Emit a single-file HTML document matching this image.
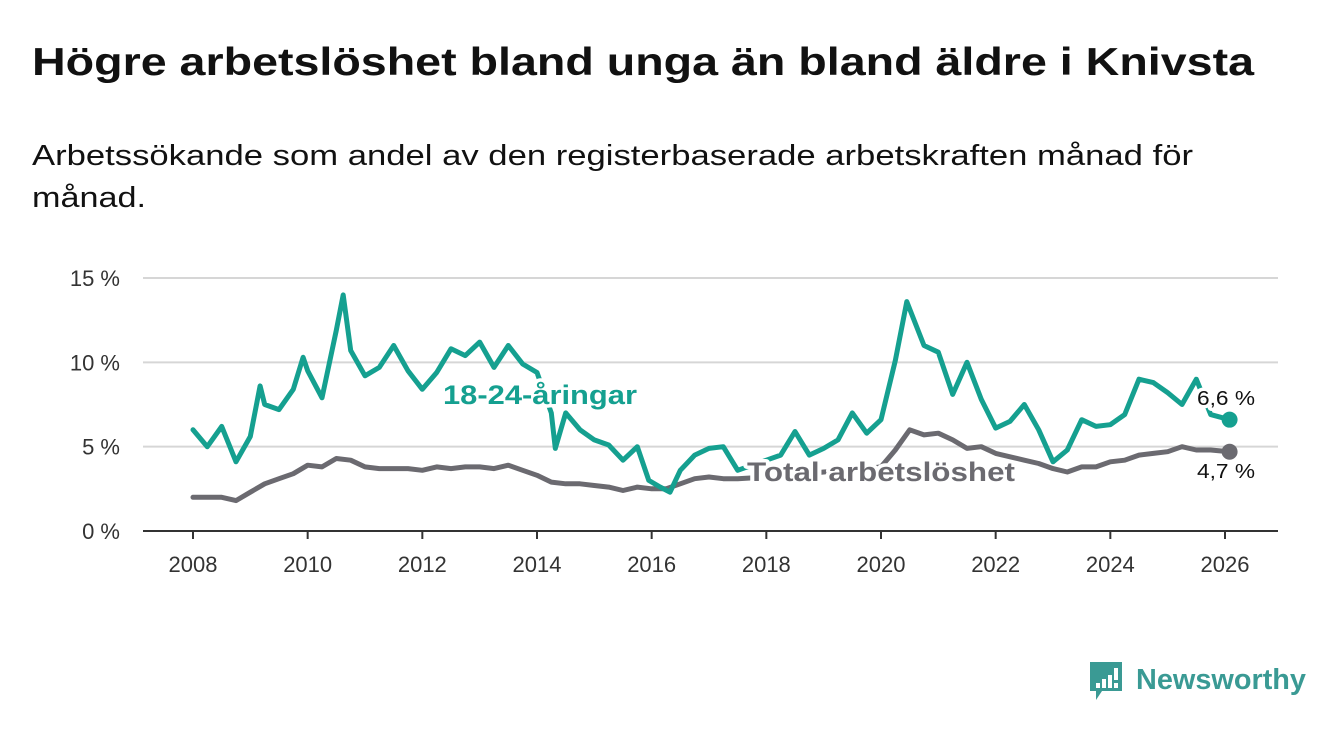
<!DOCTYPE html>
<html><head><meta charset="utf-8"><style>
html,body{margin:0;padding:0;background:#fff;}
svg{display:block;font-family:"Liberation Sans","DejaVu Sans",sans-serif;}
</style></head><body>
<svg id="chart" width="1340" height="734" viewBox="0 0 1340 734">
<text x="32" y="75" font-size="39" font-weight="bold" fill="#111" textLength="1222" lengthAdjust="spacingAndGlyphs">Högre arbetslöshet bland unga än bland äldre i Knivsta</text>
<text x="32" y="165" font-size="29" fill="#111" textLength="1161" lengthAdjust="spacingAndGlyphs">Arbetssökande som andel av den registerbaserade arbetskraften månad för</text>
<text x="32" y="207" font-size="29" fill="#111" textLength="114" lengthAdjust="spacingAndGlyphs">månad.</text>
<g id="grid"></g>
<g id="yticks"></g>
<g id="xticks"></g>
<g id="series"></g>
<g>
<path d="M1090 662 h32 v29 h-20 l-6 9 v-9 h-6 z" fill="#3a9a94"/>
<rect x="1096" y="683" width="4" height="5" fill="#fff"/><rect x="1102" y="679" width="4" height="9" fill="#fff"/><rect x="1108" y="675" width="4" height="13" fill="#fff"/><rect x="1114" y="668" width="4" height="12" fill="#fff"/><rect x="1114" y="683" width="4" height="5" fill="#fff"/>
<text x="1136" y="689" font-size="29" font-weight="bold" fill="#3a9a94" textLength="170" lengthAdjust="spacingAndGlyphs">Newsworthy</text>
</g>
</svg>
<script>
const yTicks=[0,5,10,15];
const xTicks=[2008,2010,2012,2014,2016,2018,2020,2022,2024,2026];
const youthDates=[2008,2008.25,2008.5,2008.75,2009,2009.17,2009.25,2009.5,2009.75,2009.92,2010,2010.25,2010.5,2010.62,2010.75,2011,2011.25,2011.5,2011.75,2012,2012.25,2012.5,2012.75,2013,2013.25,2013.5,2013.75,2014,2014.25,2014.32,2014.5,2014.75,2015,2015.25,2015.5,2015.75,2015.95,2016.15,2016.32,2016.5,2016.75,2017,2017.25,2017.5,2018,2018.25,2018.5,2018.75,2019,2019.25,2019.5,2019.75,2020,2020.25,2020.45,2020.75,2021,2021.25,2021.5,2021.75,2022,2022.25,2022.5,2022.75,2023,2023.25,2023.5,2023.75,2024,2024.25,2024.5,2024.75,2025,2025.25,2025.5,2025.75,2026.08];
const youthValues=[6.0,5.0,6.2,4.1,5.6,8.6,7.5,7.2,8.4,10.3,9.5,7.9,11.9,14.0,10.7,9.2,9.7,11.0,9.5,8.4,9.4,10.8,10.4,11.2,9.7,11.0,9.9,9.4,7.0,4.9,7.0,6.0,5.4,5.1,4.2,5.0,3.0,2.6,2.3,3.6,4.5,4.9,5.0,3.6,4.2,4.5,5.9,4.5,4.9,5.4,7.0,5.8,6.6,10.1,13.6,11.0,10.6,8.1,10.0,7.8,6.1,6.5,7.5,6.0,4.1,4.8,6.6,6.2,6.3,6.9,9.0,8.8,8.2,7.5,9.0,6.9,6.6];
const totalDates=[2008,2008.5,2008.75,2009,2009.25,2009.5,2009.75,2010,2010.25,2010.5,2010.75,2011,2011.25,2011.5,2011.75,2012,2012.25,2012.5,2012.75,2013,2013.25,2013.5,2013.75,2014,2014.25,2014.5,2014.75,2015,2015.25,2015.5,2015.75,2016,2016.25,2016.5,2016.75,2017,2017.25,2017.5,2018,2018.5,2019,2019.5,2020,2020.25,2020.5,2020.75,2021,2021.25,2021.5,2021.75,2022,2022.25,2022.5,2022.75,2023,2023.25,2023.5,2023.75,2024,2024.25,2024.5,2024.75,2025,2025.25,2025.5,2025.75,2026.08];
const totalValues=[2.0,2.0,1.8,2.3,2.8,3.1,3.4,3.9,3.8,4.3,4.2,3.8,3.7,3.7,3.7,3.6,3.8,3.7,3.8,3.8,3.7,3.9,3.6,3.3,2.9,2.8,2.8,2.7,2.6,2.4,2.6,2.5,2.5,2.8,3.1,3.2,3.1,3.1,3.2,3.3,3.5,3.6,3.8,4.8,6.0,5.7,5.8,5.4,4.9,5.0,4.6,4.4,4.2,4.0,3.7,3.5,3.8,3.8,4.1,4.2,4.5,4.6,4.7,5.0,4.8,4.8,4.7];
const NS='http://www.w3.org/2000/svg';
const X0=143,X1=1278;
function xs(t){return 193+(t-2008)*(1225-193)/18;}
function ys(v){return 531-v*(531-278)/15;}
function mk(tag,attrs,parent){const e=document.createElementNS(NS,tag);for(const k in attrs)e.setAttribute(k,attrs[k]);parent.appendChild(e);return e;}
const grid=document.getElementById('grid'),yt=document.getElementById('yticks'),xt=document.getElementById('xticks'),ser=document.getElementById('series');
yTicks.forEach(v=>{
 const l=mk('line',{x1:X0,x2:X1,y1:ys(v),y2:ys(v),stroke:v===0?'#333':'#d6d6d6','stroke-width':2},grid);
 
 
 const t=mk('text',{x:120,y:ys(v)+8,'text-anchor':'end','font-size':22,fill:'#333'},yt);
 
 
 t.textContent=v+' %';
});
xTicks.forEach(v=>{
 const l=mk('line',{x1:xs(v),x2:xs(v),y1:531,y2:539,stroke:'#333','stroke-width':2},xt);
 
 
 const t=mk('text',{x:xs(v),y:572,'text-anchor':'middle','font-size':22,fill:'#333'},xt);
 
 
 t.textContent=v;
});
function line(d,v,color,name){
 const pts=d.map((t,i)=>xs(t).toFixed(1)+','+ys(v[i]).toFixed(1)).join(' ');
 const p=mk('polyline',{points:pts,fill:'none',stroke:color,'stroke-width':5,'stroke-linejoin':'round','stroke-linecap':'round'},ser);
 
 
 const n=d.length-1;
 const c=mk('circle',{cx:xs(d[n]),cy:ys(v[n]),r:8,fill:color},ser);
 
 
}
line(totalDates,totalValues,'#6b6a70','total-line');
line(youthDates,youthValues,'#15a090','youth-line');
function label(txt,x,y,size,color,weight,name,len){
 const t=mk('text',{x:x,y:y,'font-size':size,fill:color,'font-weight':weight,stroke:'#fff','stroke-width':7,'paint-order':'stroke','stroke-linejoin':'round',textLength:len,lengthAdjust:'spacingAndGlyphs'},ser);
 
 
 t.textContent=txt;
}
label('18-24-åringar',443,404,27,'#15a090','bold','youth-series-label',194);
label('Total arbetslöshet',747,481,27,'#6b6a70','bold','total-series-label',268);
label('6,6 %',1197,405,20,'#111','normal','youth-last-value',58);
label('4,7 %',1197,478,20,'#111','normal','total-last-value',58);
</script>
</body></html>
